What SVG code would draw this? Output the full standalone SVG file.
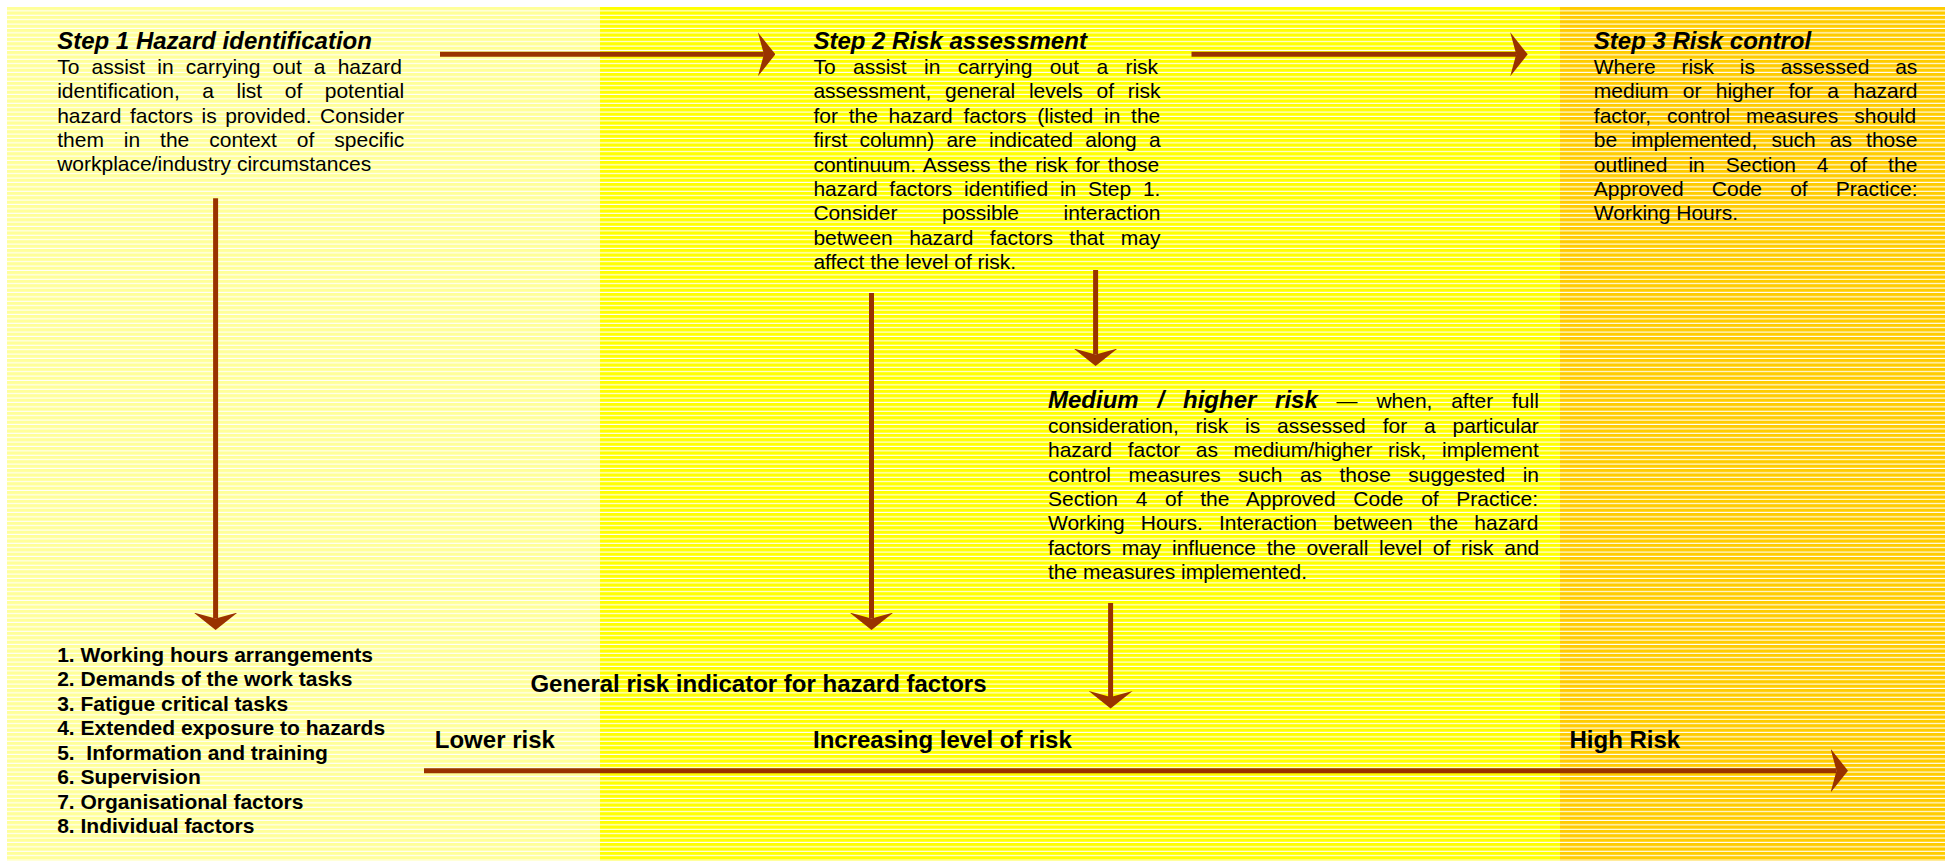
<svg xmlns="http://www.w3.org/2000/svg" width="1950" height="866" viewBox="0 0 1950 866">
<style>
text{font-family:"Liberation Sans",Arial,sans-serif;fill:#000}
.body{font-size:21px}
.title{font-size:24px;font-weight:bold;font-style:italic}
.bi{font-size:24px;font-weight:bold;font-style:italic}
.list{font-size:21px;font-weight:bold}
.lab{font-size:24px;font-weight:bold}
.arrow{stroke:#993300;stroke-width:5;fill:none;marker-end:url(#ah)}
</style>
<defs>
<pattern id="stripes" patternUnits="userSpaceOnUse" x="0" y="7" width="20" height="4.4">
<rect x="0" y="3.3" width="20" height="1.1" fill="#ffffff"/>
</pattern>
<marker id="ah" markerUnits="userSpaceOnUse" viewBox="0 -22 17.5 44" refX="6" refY="0" markerWidth="17.5" markerHeight="44" orient="auto">
<path d="M0,-22 L17.5,0 L0,22 L6,0 Z" fill="#993300"/>
</marker>
</defs>
<rect width="1950" height="866" fill="#ffffff"/>
<g id="background">
<rect x="7" y="7" width="593" height="854" fill="#ffff99"/>
<rect x="600" y="7" width="960" height="854" fill="#ffff00"/>
<rect x="1560" y="7" width="385" height="854" fill="#ffcc00"/>
<rect x="7" y="7" width="1938" height="854" fill="url(#stripes)"/>
</g>
<g id="connectors">
<path class="arrow" d="M440,54.3 H763.9"/>
<path class="arrow" d="M1191.5,54.3 H1516.2"/>
<path class="arrow" d="M215.6,198.3 V618.5"/>
<path class="arrow" d="M871.5,293 V618.5"/>
<path class="arrow" d="M1095.6,270 V354.5"/>
<path class="arrow" d="M1110.6,603 V697"/>
<path class="arrow" d="M424,770.7 H1836.5"/>
</g>
<g id="step1">
<text class="title" x="57.2" y="49">Step 1 Hazard identification</text>
<text class="body" x="57.2" y="74" word-spacing="6.28">To assist in carrying out a hazard</text>
<text class="body" x="57.2" y="98.3" word-spacing="16.7">identification, a list of potential</text>
<text class="body" x="57.2" y="122.7" word-spacing="2.7">hazard factors is provided. Consider</text>
<text class="body" x="57.2" y="146.9" word-spacing="14.1">them in the context of specific</text>
<text class="body" x="57.2" y="171.2">workplace/industry circumstances</text>
</g>
<g id="step2">
<text class="title" x="813.4" y="49.3">Step 2 Risk assessment</text>
<text class="body" x="813.4" y="74" word-spacing="11.55">To assist in carrying out a risk</text>
<text class="body" x="813.4" y="98.4" word-spacing="7.98">assessment, general levels of risk</text>
<text class="body" x="813.4" y="122.8" word-spacing="4.9">for the hazard factors (listed in the</text>
<text class="body" x="813.4" y="147.2" word-spacing="6.4">first column) are indicated along a</text>
<text class="body" x="813.4" y="171.6" word-spacing="1.94">continuum. Assess the risk for those</text>
<text class="body" x="813.4" y="196" word-spacing="5.9">hazard factors identified in Step 1.</text>
<text class="body" x="813.4" y="220.4" word-spacing="38.7">Consider possible interaction</text>
<text class="body" x="813.4" y="244.8" word-spacing="10.6">between hazard factors that may</text>
<text class="body" x="813.4" y="269.2">affect the level of risk.</text>
</g>
<g id="step3">
<text class="title" x="1593.8" y="49.3">Step 3 Risk control</text>
<text class="body" x="1593.8" y="74" word-spacing="19.9">Where risk is assessed as</text>
<text class="body" x="1593.8" y="98.4" word-spacing="8.47">medium or higher for a hazard</text>
<text class="body" x="1593.8" y="122.8" word-spacing="10.2">factor, control measures should</text>
<text class="body" x="1593.8" y="147.2" word-spacing="8.25">be implemented, such as those</text>
<text class="body" x="1593.8" y="171.6" word-spacing="15.2">outlined in Section 4 of the</text>
<text class="body" x="1593.8" y="196" word-spacing="22.3">Approved Code of Practice:</text>
<text class="body" x="1593.8" y="220.4">Working Hours.</text>
</g>
<g id="medium-risk">
<text y="408.3"><tspan class="bi" x="1048">Medium</tspan><tspan class="bi" x="1157.5">/</tspan><tspan class="bi" x="1183">higher</tspan><tspan class="bi" x="1275.1">risk</tspan><tspan class="body" x="1336.6">—</tspan><tspan class="body" x="1376.4">when,</tspan><tspan class="body" x="1451.2">after</tspan><tspan class="body" x="1512">full</tspan></text>
<text class="body" x="1048" y="432.7" word-spacing="11.0">consideration, risk is assessed for a particular</text>
<text class="body" x="1048" y="457.1" word-spacing="9.7">hazard factor as medium/higher risk, implement</text>
<text class="body" x="1048" y="481.5" word-spacing="11.6">control measures such as those suggested in</text>
<text class="body" x="1048" y="505.9" word-spacing="11.8">Section 4 of the Approved Code of Practice:</text>
<text class="body" x="1048" y="530.3" word-spacing="10.4">Working Hours. Interaction between the hazard</text>
<text class="body" x="1048" y="554.7" word-spacing="4.8">factors may influence the overall level of risk and</text>
<text class="body" x="1048" y="579.1">the measures implemented.</text>
</g>
<g id="hazard-factors">
<text class="list" x="57.2" y="661.7">1. Working hours arrangements</text>
<text class="list" x="57.2" y="686.2">2. Demands of the work tasks</text>
<text class="list" x="57.2" y="710.7">3. Fatigue critical tasks</text>
<text class="list" x="57.2" y="735.2">4. Extended exposure to hazards</text>
<text class="list" x="57.2" y="759.7" xml:space="preserve">5.  Information and training</text>
<text class="list" x="57.2" y="784.2">6. Supervision</text>
<text class="list" x="57.2" y="808.7">7. Organisational factors</text>
<text class="list" x="57.2" y="833.2">8. Individual factors</text>
</g>
<g id="risk-scale">
<text class="lab" x="530.4" y="691.7">General risk indicator for hazard factors</text>
<text class="lab" x="434.8" y="747.5">Lower risk</text>
<text class="lab" x="813" y="747.5">Increasing level of risk</text>
<text class="lab" x="1569.5" y="747.7">High Risk</text>
</g>
</svg>
